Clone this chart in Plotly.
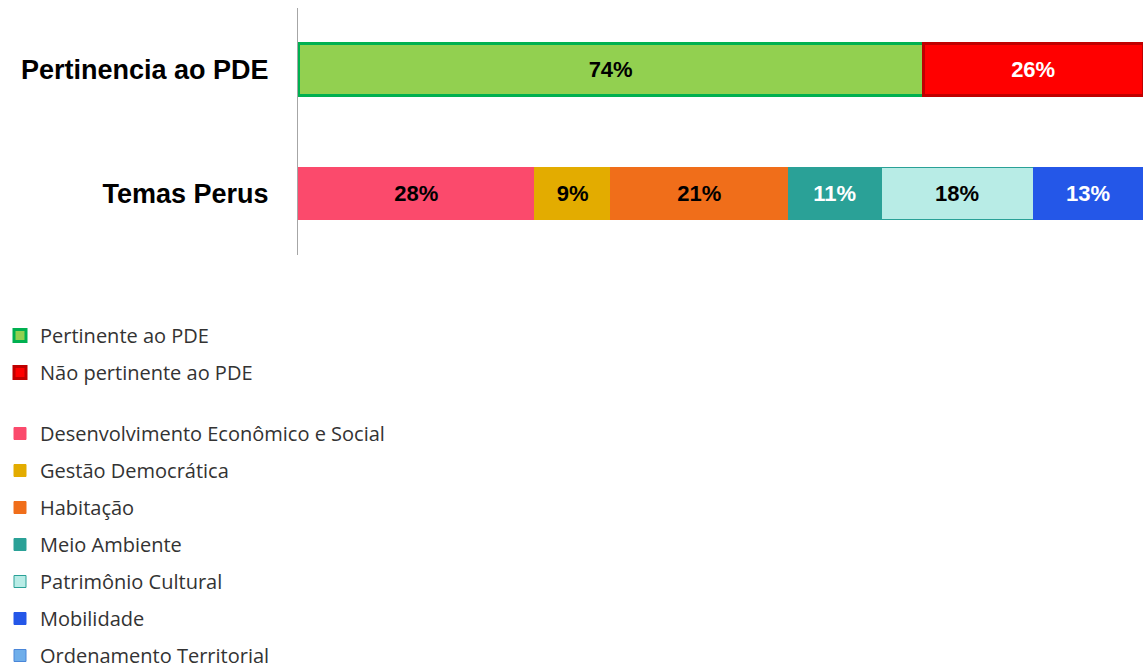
import plotly.graph_objects as go

categories = ["Pertinencia ao PDE", "Temas Perus"]

pde_names = ["Pertinente ao PDE", "Não pertinente ao PDE"]
pde_values = [0.74, 0.26]
pde_fill = ["#92D050", "#FF0000"]
pde_line = ["#00B050", "#C00000"]
pde_text = ["black", "white"]

tema_names = ["Desenvolvimento Econômico e Social", "Gestão Democrática", "Habitação",
              "Meio Ambiente", "Patrimônio Cultural", "Mobilidade", "Ordenamento Territorial"]
tema_values = [0.28, 0.09, 0.21, 0.11, 0.18, 0.13, 0.0]
tema_fill = ["#FB4A6C", "#E3AC00", "#F06E1A", "#2AA197", "#B8ECE6", "#2457E8", "#6FAEEA"]
tema_line = ["#FB4A6C", "#E3AC00", "#F06E1A", "#2AA197", "#2AA197", "#2457E8", "#4A86D8"]
tema_text = ["black", "black", "black", "white", "black", "white", "black"]

FONT = "Liberation Sans"
fig = go.Figure()

for i, n in enumerate(pde_names):
    fig.add_trace(go.Bar(
        name=n, y=[categories[0]], x=[pde_values[i]], orientation="h",
        marker=dict(color=pde_fill[i], line=dict(color=pde_line[i], width=3)),
        texttemplate="%{x:.0%}", textposition="inside", insidetextanchor="middle",
        textangle=0, constraintext="none",
        textfont=dict(color=pde_text[i], size=22, family=FONT, weight="bold"),
        legend="legend", legendgroup=f"p{i}", hoverinfo="skip"))

for i, n in enumerate(tema_names):
    fig.add_trace(go.Bar(
        name=n, y=[categories[1]], x=[tema_values[i]], orientation="h",
        marker=dict(color=tema_fill[i], line=dict(color=tema_line[i], width=1)),
        texttemplate="%{x:.0%}" if tema_values[i] > 0 else "", textposition="inside",
        insidetextanchor="middle", textangle=0, constraintext="none",
        textfont=dict(color=tema_text[i], size=22, family=FONT, weight="bold"),
        legend="legend2", legendgroup=f"t{i}", hoverinfo="skip"))

legend_common = dict(
    xref="container", yref="container", x=0, xanchor="left", yanchor="top",
    font=dict(family="Open Sans", size=20, color="#333333"),
    tracegroupgap=8, itemwidth=30, bgcolor="rgba(0,0,0,0)", traceorder="grouped",
)

fig.update_layout(
    barmode="stack",
    width=1145, height=668,
    margin=dict(l=298, r=2, t=8, b=413, autoexpand=False),
    paper_bgcolor="white", plot_bgcolor="white",
    bargap=0.58,
    showlegend=True,
    legend=dict(y=1 - 316 / 668, **legend_common),
    legend2=dict(y=1 - 414 / 668, **legend_common),
    xaxis=dict(range=[0, 1], visible=False, fixedrange=True),
    yaxis=dict(categoryorder="array", categoryarray=categories, autorange="reversed",
               showline=True, linecolor="#A6A6A6", linewidth=1, showgrid=False,
               ticks="outside", ticklen=23, tickcolor="white", automargin=False,
               tickfont=dict(family=FONT, size=27, color="black", weight="bold")),
)

fig.write_html("out.html", config={"displayModeBar": False},
               post_script="document.body.style.margin='0';")
